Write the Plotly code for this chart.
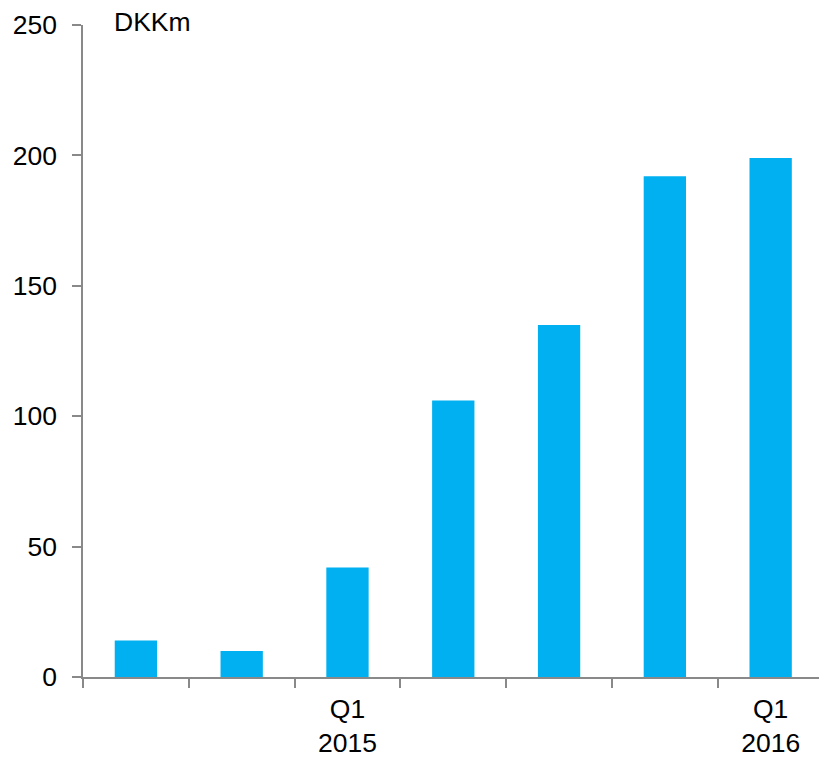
import plotly.graph_objects as go

quarters = ["Q3 2014", "Q4 2014", "Q1 2015", "Q2 2015", "Q3 2015", "Q4 2015", "Q1 2016"]
tick_labels = ["", "", "Q1<br>2015", "", "", "", "Q1<br>2016"]
values = [14, 10, 42, 106, 135, 192, 199]
y_ticks = [0, 50, 100, 150, 200, 250]

FS = 26.5
fig = go.Figure()
fig.add_trace(go.Bar(x=quarters, y=values, marker=dict(color="#00B0F0", line=dict(width=0))))

axis_color = "#898989"
fig.update_layout(
    width=819, height=757,
    margin=dict(l=83, r=0, t=25, b=80),
    paper_bgcolor="white", plot_bgcolor="white",
    bargap=0.6,
    showlegend=False,
    font=dict(family="Liberation Sans, Arial, sans-serif", size=FS, color="black"),
    xaxis=dict(
        type="category",
        range=[-0.5, 6.457],
        tickvals=quarters, ticktext=tick_labels,
        tickson="boundaries",
        ticks="outside", ticklen=9, tickwidth=1.5, tickcolor=axis_color,
        showline=True, linecolor=axis_color, linewidth=1.5,
        showgrid=False, zeroline=False,
        ticklabelstandoff=7,
        tickfont=dict(size=FS, color="black"),
    ),
    yaxis=dict(
        range=[0, 250],
        tickvals=y_ticks,
        ticks="outside", ticklen=9, tickwidth=1.5, tickcolor=axis_color,
        showline=True, linecolor=axis_color, linewidth=1.5,
        showgrid=False, zeroline=False,
        ticklabelstandoff=10,
        tickfont=dict(size=FS, color="black"),
    ),
    annotations=[dict(
        text="DKKm", xref="paper", yref="paper",
        x=(112 - 83) / 736, y=1 + 3 / 652,
        xanchor="left", yanchor="middle", showarrow=False,
        font=dict(size=FS, color="black"),
    )],
)

fig.write_html("out.html")
